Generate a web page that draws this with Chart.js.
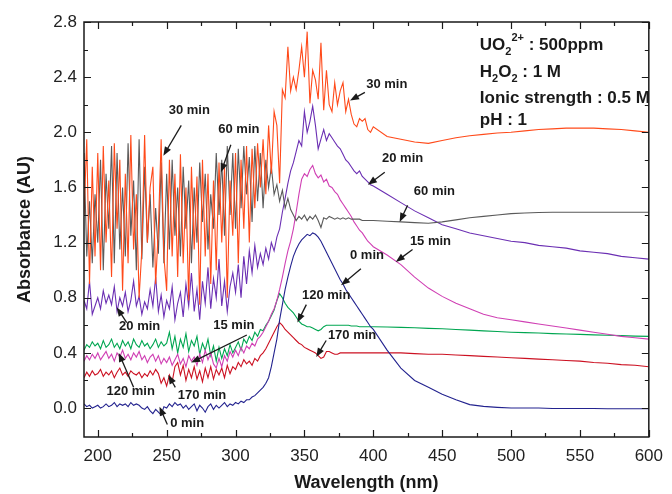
<!DOCTYPE html>
<html>
<head>
<meta charset="utf-8">
<script src="https://cdn.jsdelivr.net/npm/chart.js@4.4.0/dist/chart.umd.min.js"></script>
<style>
  html, body { margin:0; padding:0; background:#fff; }
</style>
</head>
<body>
<canvas id="grafica" width="672" height="494"></canvas>
<script>
// wavelength grid (nm)
const wavelength = [
  190,192,194,196,198,200,202,204,206,208,
  210,212,214,216,218,220,222,224,226,228,
  230,232,234,236,238,240,242,244,246,248,
  250,252,254,256,258,260,262,264,266,268,
  270,272,274,276,278,280,282,284,286,288,
  290,292,294,296,298,300,302,304,306,308,
  310,312,314,316,318,320,322,324,326,328,
  330,332,334,336,338,340,342,344,346,348,
  350,352,354,356,358,360,362,364,366,368,
  370,372,374,376,378,380,382,384,386,388,
  390,392,394,396,398,400,
  410,420,430,440,450,460,470,480,490,500,
  510,520,530,540,550,560,570,580,590,600
];

const abs0min = [
  0.03,0.01,0.02,0.00,0.01,0.02,0.00,0.01,0.03,0.01,
  0.02,0.04,0.01,0.03,0.02,0.03,0.01,0.04,0.02,0.03,
  0.02,0.00,-0.01,0.01,-0.02,-0.04,-0.01,-0.03,-0.05,0.01,
  0.00,0.03,0.01,0.04,0.02,0.03,0.00,0.02,-0.01,0.01,
  0.03,-0.02,0.02,0.00,-0.03,0.01,0.03,-0.01,0.02,0.00,
  0.02,0.04,0.01,0.03,0.02,0.04,0.03,0.05,0.04,0.06,
  0.06,0.08,0.09,0.11,0.13,0.15,0.18,0.22,0.30,0.40,
  0.50,0.64,0.75,0.86,0.95,1.03,1.10,1.15,1.19,1.22,
  1.24,1.26,1.25,1.27,1.26,1.24,1.21,1.17,1.13,1.09,
  1.05,1.01,0.97,0.93,0.90,0.86,0.83,0.80,0.77,0.74,
  0.71,0.68,0.65,0.62,0.59,0.57,
  0.42,0.29,0.20,0.15,0.10,0.06,0.025,0.012,0.005,0.0,
  0.0,0.0,-0.003,-0.003,-0.003,-0.003,-0.005,-0.005,-0.005,-0.005
];

const abs15min = [
  0.34,0.38,0.35,0.39,0.36,0.40,0.35,0.38,0.41,0.36,
  0.39,0.34,0.40,0.37,0.42,0.36,0.39,0.35,0.40,0.37,
  0.41,0.35,0.38,0.33,0.37,0.39,0.34,0.38,0.32,0.36,
  0.33,0.37,0.31,0.35,0.39,0.32,0.36,0.30,0.38,0.34,
  0.37,0.31,0.39,0.33,0.42,0.35,0.40,0.32,0.29,0.36,
  0.30,0.38,0.34,0.41,0.37,0.42,0.38,0.44,0.40,0.45,
  0.43,0.47,0.45,0.50,0.52,0.55,0.59,0.63,0.68,0.72,
  0.78,0.86,0.95,1.05,1.14,1.21,1.30,1.42,1.55,1.66,
  1.70,1.68,1.73,1.76,1.70,1.67,1.69,1.64,1.66,1.61,
  1.60,1.57,1.55,1.51,1.48,1.45,1.42,1.39,1.35,1.32,
  1.29,1.27,1.24,1.21,1.19,1.17,
  1.11,1.04,0.95,0.87,0.81,0.76,0.72,0.68,0.655,0.64,
  0.625,0.61,0.595,0.58,0.565,0.55,0.535,0.52,0.51,0.50
];

const abs20min = [
  0.78,0.72,0.92,0.68,0.74,0.80,0.72,0.85,0.76,0.82,
  0.75,0.88,0.70,0.80,0.74,0.84,0.70,0.78,0.92,0.74,
  0.81,0.68,0.77,0.72,0.86,0.74,0.95,0.70,0.82,0.66,
  0.78,0.72,0.88,0.64,0.76,0.84,0.66,0.90,0.74,0.98,
  0.70,0.86,0.64,0.92,0.76,1.02,0.72,0.94,0.80,1.08,
  0.74,0.92,0.70,0.88,0.98,0.84,1.04,0.80,1.10,0.90,
  1.14,0.98,1.18,1.02,1.12,1.04,1.16,1.08,1.20,1.14,
  1.24,1.30,1.42,1.52,1.63,1.72,1.78,1.86,1.94,1.90,
  2.15,2.00,2.08,2.19,2.05,1.88,1.95,2.02,1.94,1.99,
  1.96,1.93,1.90,1.88,1.84,1.80,1.78,1.75,1.72,1.70,
  1.72,1.68,1.66,1.64,1.62,1.61,
  1.55,1.49,1.43,1.38,1.33,1.30,1.27,1.25,1.23,1.21,
  1.20,1.18,1.17,1.16,1.14,1.13,1.12,1.10,1.09,1.08
];

const abs30min = [
  1.40,1.95,0.90,1.75,1.10,1.85,1.00,1.90,1.20,1.65,
  0.95,1.92,1.30,1.80,0.85,1.70,1.05,1.98,1.15,1.55,
  0.80,1.15,1.98,1.20,1.60,1.75,0.90,1.30,1.95,1.10,
  0.85,1.80,1.10,1.70,0.95,1.84,1.05,1.60,0.78,1.75,
  1.15,1.68,0.75,1.80,1.10,1.70,0.90,1.65,1.00,1.78,
  1.20,1.75,0.80,1.65,1.25,1.85,1.05,1.80,1.30,1.90,
  1.20,1.88,1.45,1.92,1.60,1.95,1.55,2.05,1.70,2.15,
  2.05,1.63,2.31,2.25,2.62,2.30,2.40,2.31,2.45,2.62,
  2.40,2.73,2.21,2.45,2.38,2.24,2.65,2.16,2.45,2.20,
  2.15,2.36,2.20,2.30,2.36,2.15,2.24,2.13,2.06,2.04,
  2.10,2.08,2.10,2.02,2.00,2.04,
  1.97,1.95,1.93,1.92,1.94,1.96,1.975,1.985,1.995,2.00,
  2.01,2.02,2.025,2.03,2.03,2.03,2.025,2.02,2.01,2.00
];

const abs60min = [
  1.85,1.10,1.50,1.05,1.55,1.20,1.80,1.00,1.70,1.30,
  1.90,1.05,1.85,1.15,1.60,1.10,1.92,1.25,1.65,1.00,
  1.95,1.08,1.75,1.20,1.55,1.02,1.45,1.12,1.78,1.05,
  1.70,1.15,1.80,1.25,1.60,1.10,1.75,1.30,1.65,1.05,
  1.60,1.20,1.78,1.35,1.70,1.15,1.55,1.30,1.85,1.40,
  1.80,1.25,1.90,1.40,1.85,1.30,1.88,1.45,1.90,1.55,
  1.82,1.35,1.90,1.50,1.85,1.45,1.80,1.60,1.75,1.55,
  1.62,1.50,1.58,1.45,1.52,1.44,1.40,1.36,1.39,1.37,
  1.40,1.36,1.39,1.37,1.40,1.36,1.31,1.38,1.37,1.39,
  1.38,1.37,1.38,1.37,1.38,1.37,1.38,1.37,1.37,1.37,
  1.37,1.36,1.36,1.36,1.36,1.36,
  1.355,1.35,1.345,1.34,1.35,1.365,1.38,1.39,1.40,1.41,
  1.415,1.418,1.42,1.42,1.42,1.42,1.42,1.42,1.42,1.42
];

const abs120min = [
  0.42,0.46,0.44,0.48,0.45,0.47,0.43,0.49,0.44,0.46,
  0.50,0.44,0.47,0.43,0.49,0.45,0.48,0.43,0.50,0.46,
  0.44,0.49,0.45,0.47,0.43,0.46,0.50,0.44,0.48,0.45,
  0.47,0.55,0.43,0.52,0.40,0.50,0.44,0.54,0.41,0.49,
  0.45,0.52,0.39,0.47,0.42,0.50,0.38,0.45,0.34,0.44,
  0.36,0.43,0.38,0.46,0.40,0.44,0.48,0.42,0.50,0.47,
  0.52,0.49,0.55,0.52,0.57,0.56,0.60,0.63,0.67,0.71,
  0.78,0.83,0.80,0.76,0.73,0.71,0.69,0.66,0.63,0.61,
  0.60,0.59,0.59,0.58,0.57,0.56,0.57,0.59,0.60,0.60,
  0.60,0.60,0.60,0.60,0.60,0.60,0.60,0.595,0.595,0.595,
  0.59,0.59,0.59,0.59,0.59,0.59,
  0.588,0.585,0.582,0.578,0.575,0.57,0.565,0.56,0.555,0.55,
  0.547,0.544,0.54,0.537,0.534,0.531,0.528,0.525,0.522,0.52
];

const abs170min = [
  0.22,0.26,0.23,0.27,0.24,0.25,0.28,0.23,0.26,0.24,
  0.27,0.22,0.26,0.29,0.24,0.26,0.23,0.27,0.25,0.24,
  0.26,0.22,0.25,0.23,0.27,0.24,0.28,0.25,0.18,0.22,
  0.16,0.24,0.19,0.30,0.33,0.24,0.31,0.20,0.28,0.22,
  0.30,0.21,0.27,0.19,0.29,0.22,0.30,0.21,0.28,0.24,
  0.29,0.22,0.31,0.25,0.30,0.28,0.33,0.30,0.35,0.32,
  0.34,0.31,0.36,0.34,0.38,0.40,0.43,0.47,0.51,0.55,
  0.59,0.62,0.60,0.57,0.55,0.53,0.51,0.49,0.47,0.46,
  0.44,0.43,0.42,0.41,0.40,0.38,0.36,0.37,0.41,0.41,
  0.40,0.39,0.39,0.40,0.40,0.40,0.40,0.40,0.40,0.40,
  0.40,0.40,0.40,0.40,0.40,0.40,
  0.40,0.40,0.395,0.39,0.39,0.385,0.38,0.375,0.37,0.365,
  0.36,0.355,0.35,0.345,0.34,0.33,0.325,0.315,0.31,0.30
];

const seriesNames  = ['30 min','60 min','20 min','15 min','0 min','120 min','170 min'];
const seriesValues = [abs30min, abs60min, abs20min, abs15min, abs0min, abs120min, abs170min];
const seriesColors = ['#ff4a1a','#5a5a5a','#6b2fb3','#d040b4','#23238f','#00a651','#cc1122'];

const xTickVals = [200,250,300,350,400,450,500,550,600];
const yTickVals = [0.0,0.4,0.8,1.2,1.6,2.0,2.4,2.8];

// curve labels: text position and arrow (data units)
const curveLabels = [
  {t:'30 min',  x:266.4, y:2.16,  ax:[260.6,2.05,247.6,1.83]},
  {t:'60 min',  x:302.4, y:2.02,  ax:[296.6,1.91,289.4,1.71]},
  {t:'30 min',  x:409.8, y:2.35,  ax:[393.9,2.29,383.1,2.23]},
  {t:'20 min',  x:421.3, y:1.81,  ax:[408.3,1.71,396.1,1.62]},
  {t:'60 min',  x:444.4, y:1.57,  ax:[424.9,1.47,419.1,1.35]},
  {t:'15 min',  x:441.5, y:1.21,  ax:[428.5,1.15,416.3,1.06]},
  {t:'0 min',   x:395.4, y:1.11,  ax:[391.0,1.01,376.6,0.89]},
  {t:'120 min', x:365.8, y:0.82,  ax:[351.4,0.75,344.9,0.62]},
  {t:'170 min', x:384.6, y:0.53,  ax:[365.8,0.49,358.6,0.37]},
  {t:'20 min',  x:230.4, y:0.59,  ax:[221.0,0.62,213.8,0.73]},
  {t:'120 min', x:223.9, y:0.12,  ax:[226.0,0.15,215.2,0.40]},
  {t:'170 min', x:275.7, y:0.09,  ax:[256.3,0.15,251.2,0.24]},
  {t:'15 min',  x:298.8, y:0.60,  ax:[308.2,0.53,267.8,0.33]},
  {t:'0 min',   x:264.9, y:-0.11, ax:[250.5,-0.12,244.8,0.01]}
];

const FONT = "'Liberation Sans', Arial, Helvetica, sans-serif";

function arrow(ctx, x1, y1, x2, y2) {
  const ang = Math.atan2(y2 - y1, x2 - x1);
  const hl = 9, hw = 3.5;
  ctx.beginPath();
  ctx.moveTo(x1, y1);
  ctx.lineTo(x2 - Math.cos(ang) * hl * 0.8, y2 - Math.sin(ang) * hl * 0.8);
  ctx.stroke();
  ctx.beginPath();
  ctx.moveTo(x2, y2);
  ctx.lineTo(x2 - Math.cos(ang) * hl - Math.sin(ang) * hw, y2 - Math.sin(ang) * hl + Math.cos(ang) * hw);
  ctx.lineTo(x2 - Math.cos(ang) * hl + Math.sin(ang) * hw, y2 - Math.sin(ang) * hl - Math.cos(ang) * hw);
  ctx.closePath();
  ctx.fill();
}

// draws a row of [text, dy, size] parts
function richText(ctx, x, y, parts) {
  let cx = x;
  parts.forEach(p => {
    ctx.font = 'bold ' + p[2] + 'px ' + FONT;
    ctx.fillText(p[0], cx, y + p[1]);
    cx += ctx.measureText(p[0]).width;
  });
}

const framePlugin = {
  id: 'framePlugin',
  afterDraw(chart) {
    const ctx = chart.ctx, a = chart.chartArea;
    const x = chart.scales.x, y = chart.scales.y;
    ctx.save();
    ctx.strokeStyle = '#1a1a1a';
    ctx.lineWidth = 1.5;
    ctx.strokeRect(a.left, a.top, a.right - a.left, a.bottom - a.top);
    ctx.lineWidth = 1.2;
    ctx.beginPath();
    xTickVals.forEach(v => {
      const px = Math.round(x.getPixelForValue(v)) + 0.5;
      ctx.moveTo(px, a.bottom); ctx.lineTo(px, a.bottom - 7);
      ctx.moveTo(px, a.top); ctx.lineTo(px, a.top + 7);
      const pm = Math.round(x.getPixelForValue(v + 25)) + 0.5;
      if (v + 25 < 600) {
        ctx.moveTo(pm, a.bottom); ctx.lineTo(pm, a.bottom - 4);
        ctx.moveTo(pm, a.top); ctx.lineTo(pm, a.top + 4);
      }
    });
    yTickVals.forEach(v => {
      const py = Math.round(y.getPixelForValue(v)) + 0.5;
      ctx.moveTo(a.left, py); ctx.lineTo(a.left + 7, py);
      ctx.moveTo(a.right, py); ctx.lineTo(a.right - 7, py);
      if (v + 0.2 < 2.8) {
        const pm = Math.round(y.getPixelForValue(v + 0.2)) + 0.5;
        ctx.moveTo(a.left, pm); ctx.lineTo(a.left + 4, pm);
        ctx.moveTo(a.right, pm); ctx.lineTo(a.right - 4, pm);
      }
    });
    ctx.stroke();

    // curve labels with arrows
    ctx.fillStyle = '#1a1a1a';
    ctx.strokeStyle = '#1a1a1a';
    ctx.lineWidth = 1.3;
    ctx.textAlign = 'center';
    ctx.textBaseline = 'middle';
    ctx.font = 'bold 13px ' + FONT;
    curveLabels.forEach(l => {
      ctx.fillText(l.t, x.getPixelForValue(l.x), y.getPixelForValue(l.y));
      arrow(ctx, x.getPixelForValue(l.ax[0]), y.getPixelForValue(l.ax[1]),
                 x.getPixelForValue(l.ax[2]), y.getPixelForValue(l.ax[3]));
    });

    // conditions text
    ctx.textAlign = 'left';
    ctx.textBaseline = 'alphabetic';
    const tx = x.getPixelForValue(477.3);
    richText(ctx, tx, y.getPixelForValue(2.597), [['UO',0,17],['2',5,11],['2+',-9,11],[' : 500ppm',0,17]]);
    richText(ctx, tx, y.getPixelForValue(2.401), [['H',0,17],['2',5,11],['O',0,17],['2',5,11],[' : 1 M',0,17]]);
    richText(ctx, tx, y.getPixelForValue(2.212), [['Ionic strength : 0.5 M',0,17]]);
    richText(ctx, tx, y.getPixelForValue(2.055), [['pH : 1',0,17]]);
    ctx.restore();
  }
};

const datasets = seriesNames.map((name, i) => ({
  label: name,
  data: wavelength.map((w, k) => ({x: w, y: seriesValues[i][k]})),
  borderColor: seriesColors[i],
  borderWidth: 1.1,
  pointRadius: 0,
  tension: 0,
  fill: false
}));

new Chart(document.getElementById('grafica'), {
  type: 'line',
  data: { datasets: datasets },
  options: {
    responsive: false,
    animation: false,
    layout: { padding: { top: 22, right: 19, left: 0, bottom: 0 } },
    plugins: { legend: { display: false }, tooltip: { enabled: false } },
    scales: {
      x: {
        type: 'linear', min: 190, max: 600,
        afterBuildTicks: s => { s.ticks = xTickVals.map(v => ({value: v})); },
        afterFit: s => { s.height = 57; },
        grid: { display: false, drawTicks: false },
        border: { display: false },
        ticks: { color: '#222', padding: 9, maxRotation: 0, font: { family: FONT, size: 17 } },
        title: { display: true, text: 'Wavelength (nm)', color: '#1a1a1a',
                 font: { family: FONT, size: 18, weight: 'bold' }, padding: { top: 4, bottom: 0 } }
      },
      y: {
        min: -0.21, max: 2.8,
        afterBuildTicks: s => { s.ticks = yTickVals.map(v => ({value: v})); },
        afterFit: s => { s.width = 84; },
        grid: { display: false, drawTicks: false },
        border: { display: false },
        ticks: { color: '#222', padding: 7, font: { family: FONT, size: 17 },
                 callback: v => v.toFixed(1) },
        title: { display: true, text: 'Absorbance (AU)', color: '#1a1a1a',
                 font: { family: FONT, size: 18, weight: 'bold' }, padding: { top: 14, bottom: 0 } }
      }
    }
  },
  plugins: [framePlugin]
});
</script>
</body>
</html>
